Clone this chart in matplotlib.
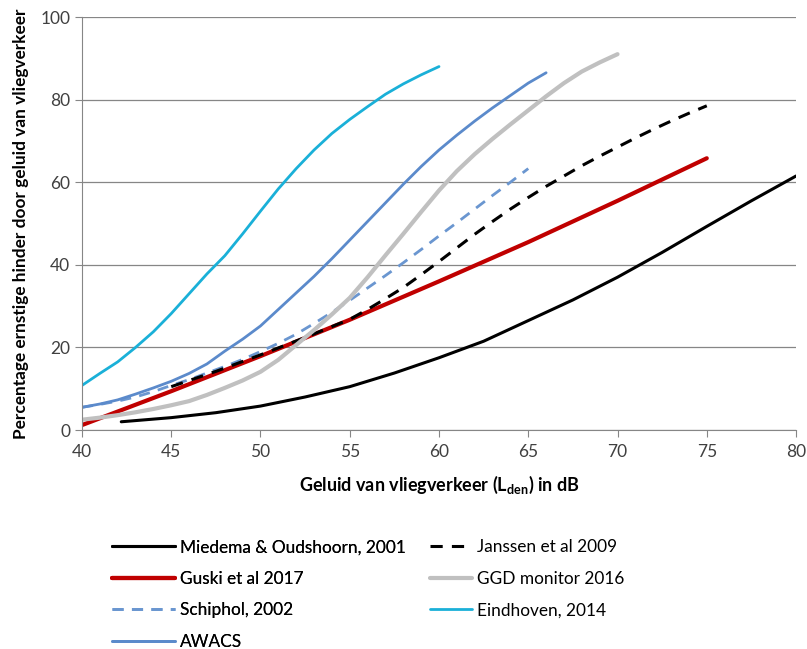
import numpy as np
import matplotlib
matplotlib.use("Agg")
import matplotlib.pyplot as plt

# data ############################################################################################
miedema_x = [42.2, 45, 47.5, 50, 52.5, 55, 57.5, 60, 62.5, 65, 67.5, 70, 72.5, 75, 77.5, 80]
miedema_y = [2.0, 3.0, 4.2, 5.8, 8.0, 10.5, 13.8, 17.5, 21.5, 26.5, 31.5, 37.0, 43.0, 49.3, 55.5, 61.5]

janssen_x = [45, 47.5, 50, 52.5, 55, 56, 57, 58, 59, 60, 61, 62, 63, 64, 65, 66, 67, 68, 69, 70,
             71, 72, 73, 74, 75]
janssen_y = [10.5, 14.2, 18.2, 22.4, 26.8, 29.2, 31.8, 34.5, 37.6, 40.8, 44.1, 47.4, 50.5, 53.5, 56.3,
             59.0, 61.5, 64.0, 66.3, 68.5, 70.7, 72.8, 74.8, 76.7, 78.5]

guski_x = [40, 45, 50, 55, 60, 65, 70, 75]
guski_y = [1.2, 9.4, 17.9, 26.7, 36.0, 45.5, 55.5, 65.8]

ggd_x = [40, 41, 42, 43, 44, 45, 46, 47, 48, 49, 50, 51, 52, 53, 54, 55, 56, 57, 58, 59, 60,
         61, 62, 63, 64, 65, 66, 67, 68, 69, 70]
ggd_y = [2.5, 3.0, 3.6, 4.3, 5.1, 6.0, 7.0, 8.5, 10.2, 12.0, 14.1, 17.0, 20.6, 24.2, 28.0, 32.0,
         37.0, 42.3, 47.5, 52.8, 58.0, 62.7, 66.8, 70.5, 74.0, 77.4, 80.8, 84.0, 86.8, 89.0, 91.0]

schiphol_x = [40, 41, 42, 43, 44, 45, 46, 47, 48, 49, 50, 51, 52, 53, 54, 55, 56, 57, 58, 59, 60,
              61, 62, 63, 64, 65]
schiphol_y = [5.5, 6.2, 7.0, 8.0, 9.3, 10.8, 12.2, 13.8, 15.4, 17.1, 19.0, 21.0, 23.2, 25.8, 28.5,
              31.4, 34.4, 37.4, 40.5, 43.7, 47.0, 50.2, 53.5, 56.8, 60.0, 63.3]

eindhoven_x = [40, 41, 42, 43, 44, 45, 46, 47, 48, 49, 50, 51, 52, 53, 54, 55, 56, 57, 58, 59, 60]
eindhoven_y = [10.8, 13.7, 16.5, 20.0, 23.8, 28.2, 33.0, 37.8, 42.2, 47.5, 53.0, 58.4, 63.3, 67.8,
               71.8, 75.2, 78.3, 81.3, 83.8, 86.0, 88.0]

awacs_x = [40, 41, 42, 43, 44, 45, 46, 47, 48, 49, 50, 51, 52, 53, 54, 55, 56, 57, 58, 59, 60,
           61, 62, 63, 64, 65, 66]
awacs_y = [5.5, 6.3, 7.3, 8.7, 10.2, 11.8, 13.7, 16.0, 19.1, 22.0, 25.2, 29.2, 33.2, 37.2, 41.5,
           46.0, 50.5, 55.0, 59.5, 63.8, 67.8, 71.4, 74.8, 78.0, 81.0, 84.0, 86.5]

x_ticks = [40, 45, 50, 55, 60, 65, 70, 75, 80]
y_ticks = [0, 20, 40, 60, 80, 100]

###################################################################################################
def main():
    plt.rcParams['font.family'] = ['Lato', 'DejaVu Sans']
    plt.rcParams['mathtext.fontset'] = 'custom'
    plt.rcParams['mathtext.rm'] = 'Lato'
    plt.rcParams['mathtext.bf'] = 'Lato:bold'

    fig = plt.figure(figsize=(8.07, 6.49), dpi=100)
    ax = fig.add_axes([0.1016, 0.3374, 0.8848, 0.6364])

    l1, = ax.plot(miedema_x, miedema_y, color='black', lw=2.2, label='Miedema & Oudshoorn, 2001')
    l2, = ax.plot(guski_x, guski_y, color='#C00000', lw=3.0, label='Guski et al 2017')
    l3, = ax.plot(schiphol_x, schiphol_y, color='#6A96D0', lw=2.0, dashes=(4, 3), label='Schiphol, 2002')
    l4, = ax.plot(awacs_x, awacs_y, color='#5B8ACB', lw=2.0, label='AWACS')
    l5, = ax.plot(janssen_x, janssen_y, color='black', lw=2.2, dashes=(4, 3), label='Janssen et al 2009')
    l6, = ax.plot(ggd_x, ggd_y, color='#C0C0C0', lw=3.0, label='GGD monitor 2016')
    l7, = ax.plot(eindhoven_x, eindhoven_y, color='#1AB0D8', lw=2.0, label='Eindhoven, 2014')

    for line in ax.get_lines():
        line.set_solid_capstyle('round')

    ax.set_xlim(40, 80)
    ax.set_ylim(0, 100)
    ax.set_xticks(x_ticks)
    ax.set_yticks(y_ticks)
    ax.tick_params(labelsize=12.5, labelcolor='#404040', length=5, color='#868686')
    ax.tick_params(axis='x', pad=5)
    ax.yaxis.grid(True, color='#868686', lw=0.9)
    ax.set_axisbelow(True)
    for side in ['top', 'right']:
        ax.spines[side].set_visible(False)
    for side in ['left', 'bottom']:
        ax.spines[side].set_color('#868686')

    ax.set_xlabel(r'Geluid van vliegverkeer (L$_{\mathbf{den}}$) in dB', fontsize=13,
                  fontweight='bold', labelpad=10)
    ax.set_ylabel('Percentage ernstige hinder door geluid van vliegverkeer', fontsize=12.4,
                  fontweight='bold', labelpad=8)

    # two legends so each column gets its own handle length, like the original
    leg_left = fig.legend(handles=[l1, l2, l3, l4], loc='upper left', bbox_to_anchor=(112 / 807, 0.169),
                          frameon=False, fontsize=12.4, handlelength=3.65, handletextpad=0.3,
                          labelspacing=0.9, borderaxespad=0, borderpad=0)
    fig.legend(handles=[l5, l6, l7], loc='upper left', bbox_to_anchor=(430 / 807, 0.169),
               frameon=False, fontsize=12.4, handlelength=2.45, handletextpad=0.3,
               labelspacing=0.9, borderaxespad=0, borderpad=0)
    fig.add_artist(leg_left)

    fig.savefig('out.png', dpi=100)
    return

###################################################################################################
if __name__ == "__main__":
    main()
